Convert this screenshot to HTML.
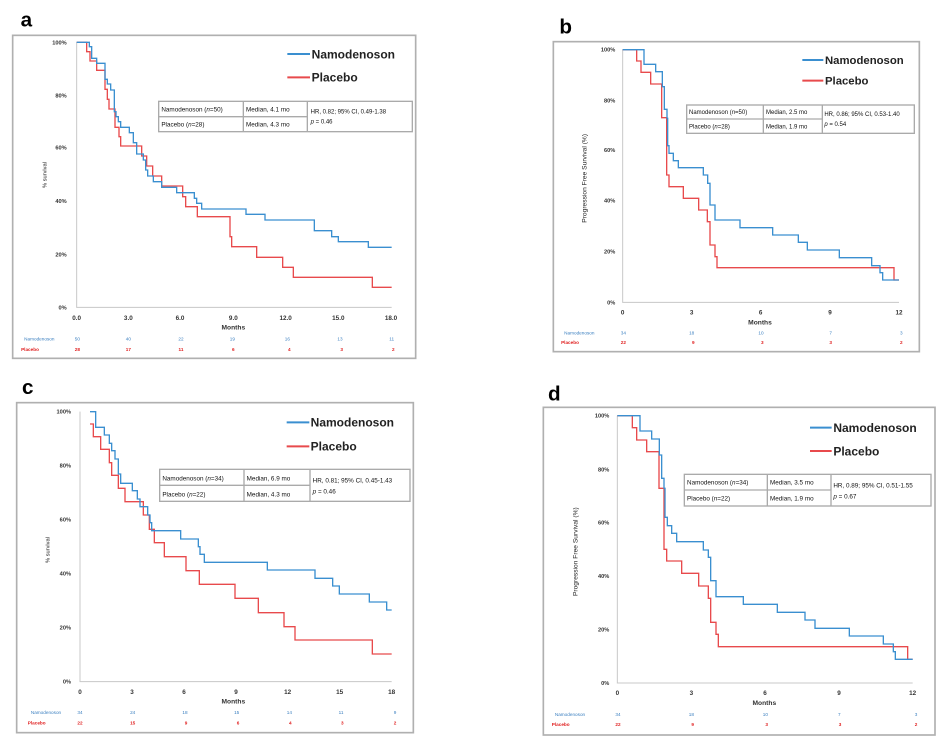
<!DOCTYPE html>
<html><head><meta charset="utf-8"><style>
html,body{margin:0;padding:0;background:#fff;width:941px;height:738px;overflow:hidden}
svg{position:absolute;font-family:"Liberation Sans",sans-serif}
.fr{fill:none;stroke:#b0b0b0;stroke-width:5}
.ax{stroke:#c8c8c8;stroke-width:3;fill:none}
.b{fill:none;stroke:#3a8fd0;stroke-width:4}
.r{fill:none;stroke:#e84a4c;stroke-width:4}
.yl{font-size:17px;font-weight:bold;text-anchor:end;fill:#333}
.xl{font-size:19px;font-weight:bold;text-anchor:middle;fill:#333}
.mo{font-size:20px;font-weight:bold;text-anchor:middle;fill:#333}
.lg{font-size:36px;font-weight:bold;fill:#222}
.tb{fill:#fff;stroke:#aaa;stroke-width:4}
.tt{font-size:19px;fill:#111}
.ht{font-size:18px;fill:#111}
.rb{font-size:14px;fill:#3a7fc0;text-anchor:middle}
.rr{font-size:14px;fill:#e02020;text-anchor:middle;font-weight:bold}
.lt{font-size:62px;font-weight:bold;fill:#000}
.yt{font-size:17px;fill:#222;text-anchor:middle}
</style></head><body>

<!-- a -->
<svg style="left:0;top:0" width="470" height="360" viewBox="0 0 1410 1080">
<text class="lt" x="62" y="80">a</text>
<rect class="fr" x="38" y="106" width="1209" height="969"/>
<path class="ax" d="M230,127 V922 H1175"/>
<g class="yl"><text x="200" y="133">100%</text><text x="200" y="293">80%</text><text x="200" y="449">60%</text><text x="200" y="609">40%</text><text x="200" y="769">20%</text><text x="200" y="928">0%</text></g>
<g class="xl"><text x="230" y="960">0.0</text><text x="385" y="960">3.0</text><text x="540" y="960">6.0</text><text x="700" y="960">9.0</text><text x="857" y="960">12.0</text><text x="1015" y="960">15.0</text><text x="1173" y="960">18.0</text></g>
<text class="mo" x="700" y="988">Months</text>
<text class="yt" transform="translate(140,525) rotate(-90)">% survival</text>
<text class="rb" x="118" y="1022">Namodenoson</text><text class="rr" x="90" y="1053">Placebo</text>
<g class="rb"><text x="232" y="1022">50</text><text x="385" y="1022">40</text><text x="543" y="1022">22</text><text x="697" y="1022">19</text><text x="862" y="1022">16</text><text x="1020" y="1022">13</text><text x="1175" y="1022">11</text></g>
<g class="rr"><text x="232" y="1053">28</text><text x="385" y="1053">17</text><text x="543" y="1053">11</text><text x="700" y="1053">6</text><text x="868" y="1053">4</text><text x="1025" y="1053">3</text><text x="1180" y="1053">2</text></g>
<path class="r" d="M230,127 H260 V155 H270 V183 H290 V211 H315 V268 H322 V298 H327 V327 H345 V382 H357 V410 H362 V438 H425 V468 H440 V498 H458 V528 H485 V558 H548 V590 H557 V620 H592 V650 H690 V710 H695 V740 H770 V772 H848 V802 H880 V832 H1117 V862 H1175"/>
<path class="b" d="M230,127 H268 V140 H275 V175 H290 V190 H315 V238 H322 V252 H332 V270 H343 V335 H348 V350 H355 V365 H362 V382 H388 V398 H400 V428 H410 V462 H430 V480 H437 V510 H443 V528 H460 V545 H485 V562 H530 V578 H583 V595 H590 V610 H605 V627 H738 V643 H795 V660 H943 V692 H995 V710 H1015 V725 H1105 V742 H1175"/>
<line x1="862" y1="162" x2="930" y2="162" stroke="#3a8fd0" stroke-width="6"/><text class="lg" x="935" y="175">Namodenoson</text>
<line x1="862" y1="232" x2="930" y2="232" stroke="#e84a4c" stroke-width="6"/><text class="lg" x="935" y="245">Placebo</text>
<rect class="tb" x="476" y="304" width="761" height="91"/><path class="tb" d="M476,350 H922 M730,304 V395 M922,304 V395"/>
<text class="tt" x="484" y="335">Namodenoson (<tspan font-style="italic">n</tspan>=50)</text><text class="tt" x="738" y="335">Median, 4.1 mo</text>
<text class="tt" x="484" y="379">Placebo (<tspan font-style="italic">n</tspan>=28)</text><text class="tt" x="738" y="379">Median, 4.3 mo</text>
<text class="ht" x="932" y="340">HR, 0.82; 95% CI, 0.49-1.38</text><text class="ht" x="932" y="370"><tspan font-style="italic">p</tspan> = 0.46</text>
</svg>

<!-- b -->
<svg style="left:470px;top:0" width="471" height="360" viewBox="0 0 1413 1080">
<text class="lt" x="268" y="100">b</text>
<rect class="fr" x="250" y="125" width="1098" height="930"/>
<path class="ax" d="M458,149 V907 H1287"/>
<g class="yl"><text x="436" y="155">100%</text><text x="436" y="307">80%</text><text x="436" y="456">60%</text><text x="436" y="608">40%</text><text x="436" y="760">20%</text><text x="436" y="913">0%</text></g>
<g class="xl"><text x="458" y="943">0</text><text x="665" y="943">3</text><text x="872" y="943">6</text><text x="1080" y="943">9</text><text x="1287" y="943">12</text></g>
<text class="mo" x="870" y="973">Months</text>
<text class="yt" style="font-size:20px" transform="translate(350,535) rotate(-90)">Progression Free Survival (%)</text>
<text class="rb" x="328" y="1003">Namodenoson</text><text class="rr" x="300" y="1032">Placebo</text>
<g class="rb"><text x="460" y="1003">34</text><text x="665" y="1003">18</text><text x="873" y="1003">10</text><text x="1082" y="1003">7</text><text x="1294" y="1003">3</text></g>
<g class="rr"><text x="460" y="1032">22</text><text x="670" y="1032">9</text><text x="877" y="1032">3</text><text x="1082" y="1032">3</text><text x="1294" y="1032">2</text></g>
<path class="r" d="M458,149 H500 V183 H513 V217 H542 V252 H575 V353 H590 V525 H597 V560 H640 V595 H686 V630 H712 V665 H720 V735 H735 V770 H741 V803 H1272 V840 H1287"/>
<path class="b" d="M458,149 H522 V193 H557 V215 H577 V260 H583 V328 H591 V355 H593 V437 H597 V460 H610 V482 H625 V503 H700 V525 H713 V550 H720 V615 H735 V660 H810 V683 H908 V705 H985 V727 H1012 V750 H1108 V773 H1205 V797 H1230 V818 H1238 V840 H1287"/>
<line x1="997" y1="180" x2="1060" y2="180" stroke="#3a8fd0" stroke-width="6"/><text class="lg" style="font-size:34px" x="1065" y="192">Namodenoson</text>
<line x1="997" y1="242" x2="1060" y2="242" stroke="#e84a4c" stroke-width="6"/><text class="lg" style="font-size:34px" x="1065" y="254">Placebo</text>
<rect class="tb" x="650" y="315" width="683" height="85"/><path class="tb" d="M650,357 H1057 M880,315 V400 M1057,315 V400"/>
<text class="tt" x="657" y="342" style="font-size:18px">Namodenoson (<tspan font-style="italic">n</tspan>=50)</text><text class="tt" x="888" y="342" style="font-size:18px">Median, 2.5 mo</text>
<text class="tt" x="657" y="385" style="font-size:18px">Placebo (<tspan font-style="italic">n</tspan>=28)</text><text class="tt" x="888" y="385" style="font-size:18px">Median, 1.9 mo</text>
<text class="ht" x="1063" y="348">HR, 0.86; 95% CI, 0.53-1.40</text><text class="ht" x="1063" y="378"><tspan font-style="italic">p</tspan> = 0.54</text>
</svg>

<!-- c -->
<svg style="left:0;top:370px" width="470" height="368" viewBox="0 0 1410 1104">
<text class="lt" x="66" y="72">c</text>
<rect class="fr" x="50" y="98" width="1190" height="990"/>
<path class="ax" d="M240,125 V935 H1175"/>
<g class="yl"><text x="213" y="131">100%</text><text x="213" y="293">80%</text><text x="213" y="454">60%</text><text x="213" y="616">40%</text><text x="213" y="778">20%</text><text x="213" y="941">0%</text></g>
<g class="xl"><text x="240" y="972">0</text><text x="396" y="972">3</text><text x="552" y="972">6</text><text x="708" y="972">9</text><text x="863" y="972">12</text><text x="1019" y="972">15</text><text x="1175" y="972">18</text></g>
<text class="mo" x="700" y="1000">Months</text>
<text class="yt" transform="translate(148,540) rotate(-90)">% survival</text>
<text class="rb" x="138" y="1032">Namodenoson</text><text class="rr" x="110" y="1063">Placebo</text>
<g class="rb"><text x="240" y="1032">34</text><text x="398" y="1032">24</text><text x="555" y="1032">18</text><text x="710" y="1032">15</text><text x="868" y="1032">14</text><text x="1023" y="1032">11</text><text x="1185" y="1032">9</text></g>
<g class="rr"><text x="240" y="1063">22</text><text x="398" y="1063">15</text><text x="558" y="1063">9</text><text x="714" y="1063">6</text><text x="871" y="1063">4</text><text x="1027" y="1063">3</text><text x="1185" y="1063">2</text></g>
<path class="r" d="M270,162 H280 V200 H302 V238 H328 V278 H335 V316 H355 V355 H375 V395 H430 V435 H448 V478 H463 V518 H493 V560 H558 V602 H598 V643 H705 V685 H775 V728 H852 V770 H885 V810 H1117 V852 H1175"/>
<path class="b" d="M270,125 H287 V172 H313 V195 H328 V220 H335 V242 H345 V267 H355 V312 H362 V340 H397 V362 H412 V387 H420 V410 H443 V435 H450 V458 H455 V482 H542 V507 H595 V530 H600 V553 H613 V577 H802 V600 H945 V625 H998 V648 H1018 V672 H1108 V696 H1160 V720 H1175"/>
<line x1="860" y1="157" x2="928" y2="157" stroke="#3a8fd0" stroke-width="6"/><text class="lg" x="932" y="170">Namodenoson</text>
<line x1="860" y1="229" x2="928" y2="229" stroke="#e84a4c" stroke-width="6"/><text class="lg" x="932" y="242">Placebo</text>
<rect class="tb" x="479" y="298" width="751" height="96"/><path class="tb" d="M479,346 H930 M732,298 V394 M930,298 V394"/>
<text class="tt" x="487" y="331">Namodenoson (<tspan font-style="italic">n</tspan>=34)</text><text class="tt" x="740" y="331">Median, 6.9 mo</text>
<text class="tt" x="487" y="379">Placebo (<tspan font-style="italic">n</tspan>=22)</text><text class="tt" x="740" y="379">Median, 4.3 mo</text>
<text class="ht" x="938" y="338" style="font-size:19px">HR, 0.81; 95% CI, 0.45-1.43</text><text class="ht" x="938" y="370" style="font-size:19px"><tspan font-style="italic">p</tspan> = 0.46</text>
</svg>

<!-- d -->
<svg style="left:470px;top:370px" width="471" height="368" viewBox="0 0 1413 1104">
<text class="lt" x="234" y="92">d</text>
<rect class="fr" x="220" y="112" width="1175" height="983"/>
<path class="ax" d="M442,137 V939 H1328"/>
<g class="yl"><text x="418" y="143">100%</text><text x="418" y="304">80%</text><text x="418" y="464">60%</text><text x="418" y="624">40%</text><text x="418" y="785">20%</text><text x="418" y="945">0%</text></g>
<g class="xl"><text x="442" y="975">0</text><text x="664" y="975">3</text><text x="885" y="975">6</text><text x="1107" y="975">9</text><text x="1328" y="975">12</text></g>
<text class="mo" x="883" y="1005">Months</text>
<text class="yt" style="font-size:20px" transform="translate(322,545) rotate(-90)">Progression Free Survival (%)</text>
<text class="rb" x="300" y="1038">Namodenoson</text><text class="rr" x="272" y="1068">Placebo</text>
<g class="rb"><text x="444" y="1038">34</text><text x="664" y="1038">18</text><text x="886" y="1038">10</text><text x="1108" y="1038">7</text><text x="1338" y="1038">3</text></g>
<g class="rr"><text x="444" y="1068">22</text><text x="668" y="1068">9</text><text x="890" y="1068">3</text><text x="1110" y="1068">3</text><text x="1338" y="1068">2</text></g>
<path class="r" d="M442,137 H487 V173 H500 V210 H530 V245 H567 V355 H582 V538 H590 V573 H635 V610 H686 V648 H715 V685 H722 V757 H738 V793 H745 V830 H1313 V868 H1328"/>
<path class="b" d="M442,137 H510 V183 H545 V207 H568 V255 H575 V325 H582 V355 H585 V442 H592 V467 H605 V490 H620 V515 H700 V540 H715 V562 H722 V632 H738 V680 H820 V703 H922 V727 H1005 V750 H1035 V775 H1138 V798 H1240 V822 H1270 V845 H1276 V868 H1328"/>
<line x1="1020" y1="173" x2="1085" y2="173" stroke="#3a8fd0" stroke-width="6"/><text class="lg" x="1090" y="186">Namodenoson</text>
<line x1="1020" y1="243" x2="1085" y2="243" stroke="#e84a4c" stroke-width="6"/><text class="lg" x="1090" y="256">Placebo</text>
<rect class="tb" x="643" y="313" width="740" height="95"/><path class="tb" d="M643,360 H1083 M892,313 V408 M1083,313 V408"/>
<text class="tt" x="651" y="344">Namodenoson (<tspan font-style="italic">n</tspan>=34)</text><text class="tt" x="900" y="344">Median, 3.5 mo</text>
<text class="tt" x="651" y="392">Placebo (<tspan font-style="italic">n</tspan>=22)</text><text class="tt" x="900" y="392">Median, 1.9  mo</text>
<text class="ht" x="1090" y="352" style="font-size:19px">HR, 0.89; 95% CI, 0.51-1.55</text><text class="ht" x="1090" y="385" style="font-size:19px"><tspan font-style="italic">p</tspan> = 0.67</text>
</svg>
</body></html>
